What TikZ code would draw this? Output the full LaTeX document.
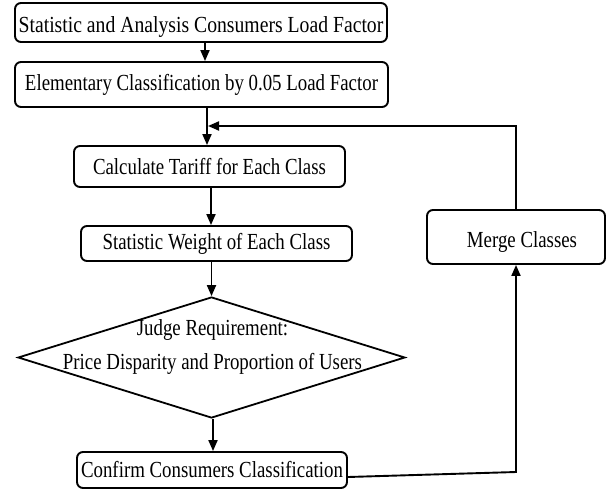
\documentclass[tikz,border=0pt]{standalone}
\usepackage{fontspec}
\newfontfamily\dfont[FakeStretch=0.82]{Liberation Serif}
\newfontfamily\dfontw[FakeStretch=0.856]{Liberation Serif}
\usetikzlibrary{arrows.meta,shapes.geometric}
\begin{document}
\begin{tikzpicture}[x=1pt,y=-1pt,
  txt/.style={font=\dfont\fontsize{23pt}{26pt}\selectfont, text=black, inner sep=0pt},
  box/.style={draw=black, line width=1.9pt, rounded corners=6pt, inner sep=0pt, txt},
  dia/.style={draw=black, line width=1.8pt, diamond, inner sep=0pt},
  arr/.style={draw=black, line width=1.9pt, -{Triangle[length=11pt,width=9pt]}},
  ln/.style={draw=black, line width=1.9pt}
]
\useasboundingbox (0,0) rectangle (609,489);
\fill[white] (0,0) rectangle (609,489);

\node[box, minimum width=372pt, minimum height=39pt,
  label={[txt, font=\dfontw\fontsize{23pt}{26pt}\selectfont, yshift=-5pt]center:Statistic and Analysis Consumers Load Factor}] (b1) at (201,22.5) {};
\node[box, minimum width=373pt, minimum height=45pt] (b2) at (201.5,84.5) {Elementary Classification by 0.05 Load Factor};
\node[box, minimum width=271pt, minimum height=41pt] (b3) at (209.5,166.5) {Calculate Tariff for Each Class};
\node[box, minimum width=271pt, minimum height=35pt] (b4) at (216.5,243.5) {Statistic Weight of Each Class};
\node[dia, minimum width=387pt, minimum height=121pt] (d) at (211.5,357.5) {};
\node[txt, align=center] (dt) at (212.5,347) {Judge Requirement:\\[8pt]Price Disparity and Proportion of Users};
\node[box, minimum width=270pt, minimum height=36pt] (c) at (212,470) {Confirm Consumers Classification};
\node[box, minimum width=178pt, minimum height=54pt,
  label={[txt, xshift=6pt, yshift=-5pt]center:Merge Classes}] (m) at (516,237) {};

\coordinate (fb) at (207,126);
\coordinate (cr) at (516,472);

\draw[arr] ([xshift=4pt]b1.south) -- ([xshift=3.5pt]b2.north);
\draw[arr] (b2.south -| fb) -- (b3.north -| fb);
\draw[arr] ([xshift=1.5pt]b3.south) -- ([xshift=1.5pt]b3.south |- b4.north);
\draw[arr] (b4.south -| d.north) -- (d.north);
\draw[arr] ([xshift=1.5pt]d.south) -- ([xshift=1.5pt]d.south |- c.north);
\draw[arr] ([yshift=-7pt]c.east) -- (cr) -- (m.south);
\draw[arr] (m.north) |- ([xshift=1pt]fb);
\end{tikzpicture}
\end{document}
